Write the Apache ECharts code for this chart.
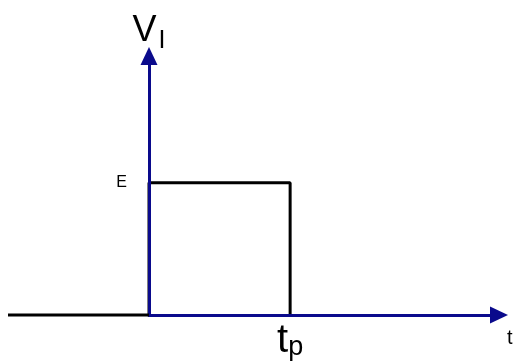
<!DOCTYPE html>
<html>
<head>
<meta charset="utf-8">
<title>pulse</title>
<script src="https://cdn.jsdelivr.net/npm/echarts@6/dist/echarts.min.js"></script>
<style>
  html, body { margin: 0; padding: 0; background: #fff; }
  #pulse { width: 514px; height: 364px; }
</style>
</head>
<body>
<div id="pulse"></div>
<script>
// 脉冲波形 t / V
var pulseT = [-1, 0, 0, 1, 1];
var pulseV = [0, 0, 1, 1, 0];
var levelE = 1; // E
var widthTp = 1; // t_p

(function () {
  var myChart = echarts.init(document.getElementById("pulse"));
  var axisColor = "#0a0a8c";
  var font = "Liberation Sans";

  var pts = [];
  for (var i = 0; i < pulseT.length; i++) {
    pts.push([pulseT[i], pulseV[i]]);
  }

  var option = {
    animation: false,
    grid: [
      {
        left: 149,
        right: 15,
        top: 56,
        bottom: 49,
        outerBoundsMode: "none",
        containLabel: false,
      },
      {
        // 左边 (t < 0) 的部分
        left: 8,
        width: 141,
        top: 56,
        bottom: 49,
        outerBoundsMode: "none",
        containLabel: false,
      },
    ],
    xAxis: [
      {
        type: "value",
        min: 0,
        max: 2.48,
        interval: 1,
        z: 5,
        name: "t",
        nameLocation: "end",
        nameGap: 8,
        nameTextStyle: {
          fontFamily: font,
          fontSize: 20,
          color: "#000",
          verticalAlign: "top",
          padding: [13, 0, 0, 0],
        },
        axisLine: {
          show: true,
          onZero: false,
          symbol: ["none", "triangle"],
          symbolSize: [17, 18],
          lineStyle: { color: axisColor, width: 3 },
        },
        axisTick: { show: false },
        splitLine: { show: false },
        axisLabel: {
          margin: 5,
          showMinLabel: false,
          formatter: function (v) {
            return v === widthTp ? "{t|t}{p|p}" : "";
          },
          rich: {
            t: { fontFamily: font, fontSize: 40, color: "#000" },
            p: { fontFamily: font, fontSize: 27, color: "#000", padding: [14, 0, 0, 0] },
          },
        },
      },
      {
        gridIndex: 1,
        type: "value",
        min: -1,
        max: 0,
        show: false,
      },
    ],
    yAxis: [
      {
        type: "value",
        min: 0,
        max: 1.96,
        interval: 1,
        z: 5,
        name: "{v|V}{s|I}",
        nameLocation: "end",
        nameGap: 2,
        nameTextStyle: {
          rich: {
            v: { fontFamily: font, fontSize: 36, color: "#000" },
            s: { fontFamily: font, fontSize: 25, color: "#000", padding: [20, 0, 0, 2] },
          },
        },
        axisLine: {
          show: true,
          onZero: false,
          symbol: ["none", "triangle"],
          symbolSize: [17, 18],
          lineStyle: { color: axisColor, width: 3 },
        },
        axisTick: { show: false },
        splitLine: { show: false },
        axisLabel: {
          margin: 22,
          fontFamily: font,
          fontSize: 16,
          color: "#000",
          padding: [0, 0, 8, 0],
          formatter: function (v) {
            return v === levelE ? "E" : "";
          },
        },
      },
      {
        gridIndex: 1,
        type: "value",
        min: 0,
        max: 1.96,
        show: false,
      },
    ],
    series: [
      {
        // 左边基线
        type: "line",
        xAxisIndex: 1,
        yAxisIndex: 1,
        z: 10,
        clip: false,
        symbol: "none",
        lineStyle: { color: "#000", width: 3 },
        data: pts.slice(0, 2),
      },
      {
        type: "line",
        z: 1,
        symbol: "none",
        lineStyle: { color: "#000", width: 3 },
        data: pts.slice(1),
      },
    ],
  };

  myChart.setOption(option);
  window.addEventListener("resize", function () {
    myChart.resize();
  });
})();
</script>
</body>
</html>
